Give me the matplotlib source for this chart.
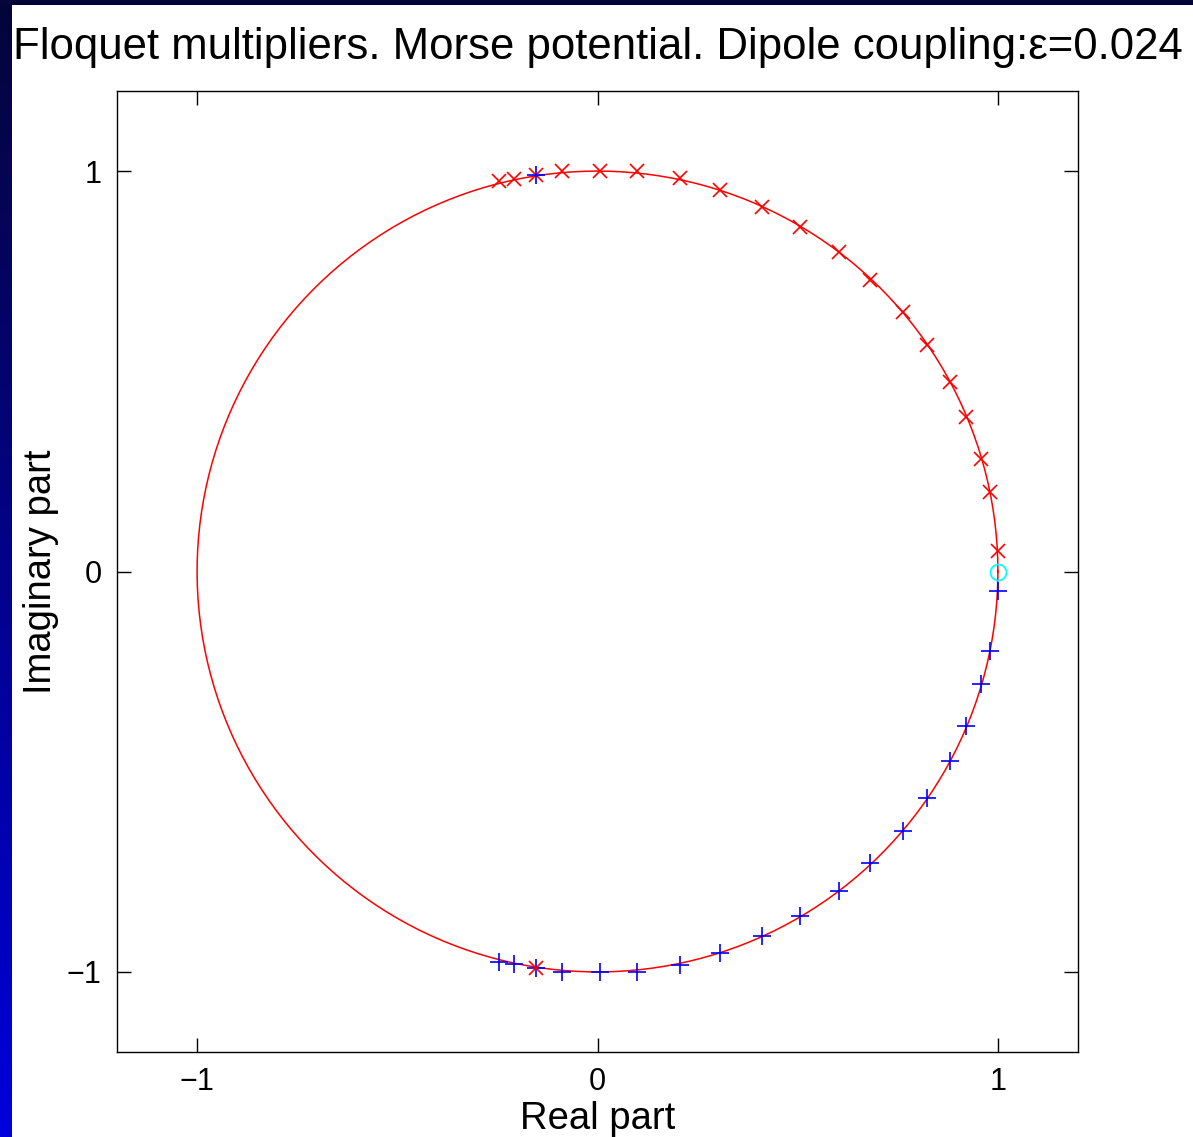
import numpy as np
import matplotlib
matplotlib.use("Agg")
from matplotlib import pyplot as plt

plt.rcParams['font.family'] = ['Liberation Sans', 'DejaVu Sans']

# Floquet multipliers (upper half: x markers)
red_re = [-0.245, -0.208, -0.153, -0.088, 0.005, 0.098, 0.205, 0.305, 0.410, 0.506,
          0.603, 0.681, 0.763, 0.824, 0.881, 0.921, 0.959, 0.981, 0.999, -0.153]
red_im = [0.974, 0.979, 0.989, 0.999, 1.000, 0.999, 0.982, 0.954, 0.911, 0.861,
          0.798, 0.728, 0.648, 0.566, 0.473, 0.385, 0.280, 0.198, 0.050, -0.989]
# lower half: + markers
blue_re = [-0.245, -0.208, -0.153, -0.088, 0.005, 0.098, 0.205, 0.305, 0.410, 0.506,
           0.603, 0.681, 0.763, 0.824, 0.881, 0.921, 0.959, 0.981, 0.999, -0.153]
blue_im = [-0.974, -0.979, -0.989, -0.999, -1.000, -0.999, -0.982, -0.954, -0.911, -0.861,
           -0.798, -0.728, -0.648, -0.566, -0.473, -0.385, -0.280, -0.198, -0.048, 0.989]
trivial_re = [1.0]
trivial_im = [0.0]

fig = plt.figure(figsize=(11.93, 11.37), dpi=100)
fig.patch.set_facecolor('white')

# dark frame: top bar and left gradient strip
top = fig.add_axes([0, 1 - 5 / 1137, 1, 5 / 1137])
top.set_axis_off()
top.add_patch(plt.Rectangle((0, 0), 1, 1, color='#05053a', transform=top.transAxes))
strip = fig.add_axes([0, 0, 12 / 1193, 1])
grad = np.linspace(0, 1, 256).reshape(-1, 1)
cmap = matplotlib.colors.LinearSegmentedColormap.from_list('bar', ['#0000dc', '#05053a'])
strip.imshow(grad, aspect='auto', cmap=cmap, origin='lower', extent=[0, 1, 0, 1])
strip.set_axis_off()

ax = fig.add_axes([117 / 1193, 85 / 1137, 961 / 1193, 961 / 1137])
t = np.linspace(0, 2 * np.pi, 400)
ax.plot(np.cos(t), np.sin(t), color='red', lw=1.1)
ax.plot(red_re[:-1], red_im[:-1], 'x', color='red', ms=9.5, mew=1.2)
ax.plot(blue_re, blue_im, '+', color='blue', ms=12.5, mew=1.2)
ax.plot(red_re[-1:], red_im[-1:], 'x', color='red', ms=9.5, mew=1.2)
ax.plot(trivial_re, trivial_im, 'o', mfc='none', mec='cyan', ms=11.5, mew=1.3)

ax.set_xlim(-1.2, 1.2)
ax.set_ylim(-1.2, 1.2)
ax.set_xticks([-1, 0, 1])
ax.set_yticks([-1, 0, 1])
ax.set_xticklabels(['\u22121', '0', '1'])
ax.set_yticklabels(['\u22121', '0', '1'])
ax.tick_params(direction='in', length=10, width=1, top=True, right=True,
               labelsize=22, pad=11)
for s in ax.spines.values():
    s.set_linewidth(1)
ax.set_xlabel('Real part', fontsize=27.5, labelpad=3)
ax.set_ylabel('Imaginary part', fontsize=27.5, labelpad=6)
ax.set_title('Floquet multipliers. Morse potential. Dipole coupling:\u03b5=0.024',
             fontsize=31.5, pad=23)

fig.savefig('out.png', dpi=100, facecolor='white')
